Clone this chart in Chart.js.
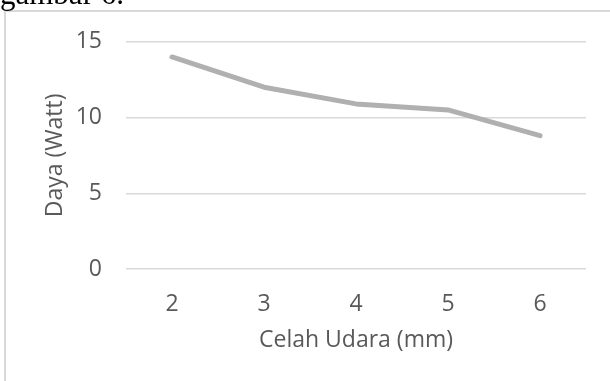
<!DOCTYPE html>
<html><head><meta charset="utf-8">
<script src="https://cdn.jsdelivr.net/npm/chart.js@4/dist/chart.umd.min.js"></script>
<style>
html,body{margin:0;padding:0;background:#fff;width:610px;height:381px;overflow:hidden;position:relative;}
#cap{position:absolute;left:0;top:-22px;font-family:"Liberation Serif","DejaVu Serif",serif;font-size:31px;line-height:31px;color:#000;white-space:nowrap;z-index:5;}
#frame{position:absolute;left:4px;top:10px;width:606px;height:371px;border-left:2px solid #d9d9d9;border-top:2px solid #d9d9d9;box-sizing:border-box;}
#wrap{position:absolute;left:6px;top:4px;width:604px;height:377px;}
</style></head>
<body>
<div id="cap">gambar 6.</div>
<div id="frame"></div>
<div id="wrap"><canvas id="c" width="604" height="377"></canvas></div>
<script>
const categories = ["2","3","4","5","6"];
const dayaWatt = [14, 12, 10.9, 10.5, 8.8];
const yTicks = [0, 5, 10, 15];
const xTitle = "Celah Udara (mm)";
const yTitle = "Daya (Watt)";

const font = {family:"'Open Sans', sans-serif", size:23};
new Chart(document.getElementById('c'), {
  type:'line',
  data:{labels:categories, datasets:[{data:dayaWatt, borderColor:'#b0b0b0', borderWidth:5, borderCapStyle:'round', borderJoinStyle:'round', pointRadius:0, tension:0, fill:false}]},
  options:{
    responsive:false, animation:false, devicePixelRatio:1,
    plugins:{legend:{display:false}, tooltip:{enabled:false}},
    layout:{padding:{left:0,right:24,top:18,bottom:0}},
    scales:{
      x:{
        offset:true,
        grid:{display:false, drawTicks:false},
        border:{display:false},
        ticks:{color:'#595959', font:font, padding:22},
        title:{display:true, text:xTitle, color:'#595959', font:font, padding:{top:0,bottom:27}},
        afterFit:(s)=>{s.height=112;}
      },
      y:{
        min:0, max:15,
        afterBuildTicks:(s)=>{s.ticks=yTicks.map(v=>({value:v}));},
        grid:{color:'#d9d9d9', lineWidth:1.5, drawTicks:false},
        border:{display:false},
        ticks:{color:'#595959', font:font, padding:24},
        title:{display:true, text:yTitle, color:'#595959', font:font, padding:{top:36,bottom:0}},
        afterFit:(s)=>{s.width=120;}
      }
    }
  }
});
</script>
</body></html>
